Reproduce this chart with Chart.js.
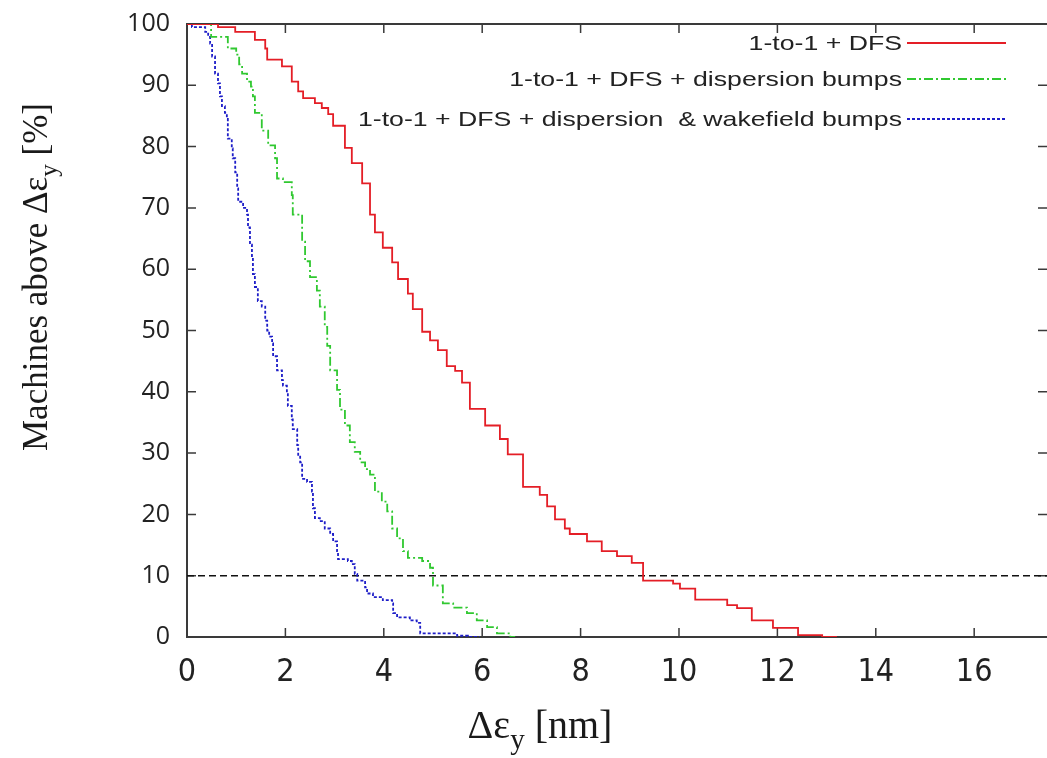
<!DOCTYPE html>
<html>
<head>
<meta charset="utf-8">
<script src="https://cdn.jsdelivr.net/npm/chart.js@4.4.1/dist/chart.umd.min.js"></script>
<style>
  html, body { margin: 0; padding: 0; background: #fff; }
  #wrap { width: 1047px; height: 758px; position: relative; }
</style>
</head>
<body>
<div id="wrap"><canvas id="cdf"></canvas></div>
<script>
// Step curves: value holds from each x onward
const redX = [0, 0.63, 0.98, 1.38, 1.59, 1.63, 1.93, 2.13, 2.26, 2.36, 2.60, 2.74, 2.87, 2.97, 3.21, 3.35, 3.56, 3.72, 3.82, 3.98, 4.17, 4.29, 4.49, 4.59, 4.78, 4.94, 5.10, 5.28, 5.45, 5.59, 5.75, 6.06, 6.36, 6.52, 6.83, 7.17, 7.32, 7.48, 7.68, 7.78, 8.13, 8.43, 8.74, 9.04, 9.27, 9.88, 10.02, 10.33, 10.98, 11.18, 11.48, 11.91, 12.42, 12.91, 13.21];
const redY = [100, 99.5, 98.7, 97.4, 96.0, 94.2, 93.1, 90.6, 89.0, 87.9, 87.1, 86.3, 85.3, 83.4, 79.8, 77.3, 74.0, 68.9, 66.0, 63.5, 61.1, 58.4, 56.0, 53.5, 49.8, 48.4, 46.8, 44.2, 43.4, 41.5, 37.2, 34.5, 32.3, 29.8, 24.5, 23.2, 21.3, 19.2, 17.7, 16.8, 15.6, 14.0, 13.2, 12.1, 9.2, 8.7, 7.9, 6.1, 5.2, 4.7, 2.7, 1.5, 0.3, 0, 0];

const greenX = [0, 0.49, 0.83, 1.00, 1.06, 1.12, 1.22, 1.30, 1.34, 1.38, 1.52, 1.65, 1.79, 1.83, 1.95, 2.13, 2.15, 2.34, 2.40, 2.50, 2.64, 2.70, 2.80, 2.85, 2.91, 3.05, 3.11, 3.21, 3.31, 3.41, 3.52, 3.62, 3.72, 3.82, 3.96, 4.07, 4.17, 4.27, 4.39, 4.49, 4.78, 4.94, 5.00, 5.20, 5.41, 5.69, 5.89, 6.10, 6.30, 6.57, 6.67];
const greenY = [100, 97.9, 96.0, 95.0, 93.4, 91.9, 90.6, 89.8, 88.2, 85.5, 82.6, 80.2, 78.1, 74.8, 74.2, 72.1, 68.9, 64.5, 61.3, 58.7, 56.5, 53.9, 50.6, 47.5, 43.5, 40.3, 37.1, 34.5, 31.8, 30.2, 28.5, 27.4, 26.5, 23.7, 22.1, 20.5, 17.7, 16.1, 14.0, 12.9, 12.4, 11.3, 8.4, 5.5, 4.8, 3.9, 2.7, 1.6, 0.6, 0, 0];

const blueX = [0, 0.10, 0.37, 0.43, 0.47, 0.51, 0.57, 0.63, 0.67, 0.71, 0.77, 0.81, 0.83, 0.91, 0.93, 0.98, 1.02, 1.04, 1.14, 1.22, 1.24, 1.28, 1.32, 1.34, 1.38, 1.44, 1.52, 1.59, 1.63, 1.67, 1.73, 1.75, 1.83, 1.93, 1.95, 2.03, 2.05, 2.13, 2.15, 2.24, 2.26, 2.30, 2.34, 2.44, 2.54, 2.56, 2.60, 2.70, 2.80, 2.91, 2.97, 3.05, 3.07, 3.27, 3.35, 3.41, 3.46, 3.62, 3.66, 3.78, 3.98, 4.17, 4.19, 4.27, 4.53, 4.67, 4.74, 5.49, 5.71, 5.95];
const blueY = [100, 99.5, 98.7, 97.9, 96.8, 94.7, 91.9, 90.3, 88.2, 86.6, 85.5, 84.5, 81.3, 79.7, 78.1, 75.8, 73.2, 71.0, 70.0, 68.9, 66.8, 64.0, 61.9, 59.2, 57.1, 54.8, 53.9, 51.6, 50.0, 49.0, 47.9, 45.8, 43.5, 41.9, 41.0, 39.8, 37.7, 35.5, 33.9, 31.3, 29.7, 28.5, 25.8, 25.3, 23.7, 21.0, 19.4, 18.9, 17.7, 16.8, 15.6, 14.0, 12.7, 12.4, 11.9, 10.3, 9.2, 8.1, 7.1, 6.5, 6.0, 5.5, 3.9, 3.2, 2.7, 2.3, 0.6, 0.2, 0, 0];

const seriesNames = [
  '1-to-1 + DFS',
  '1-to-1 + DFS + dispersion bumps',
  '1-to-1 + DFS + dispersion  & wakefield bumps'
];
const thresholdLevel = 10;
const xMin = 0, xMax = 17.48;
const xTickValues = [0, 2, 4, 6, 8, 10, 12, 14, 16];
const yTickValues = [0, 10, 20, 30, 40, 50, 60, 70, 80, 90, 100];

const RED = 'rgb(228, 30, 38)';
const GREEN = 'rgb(48, 200, 48)';
const BLUE = 'rgb(30, 30, 200)';
const AXIS = '#3a3a3a';

const styles = [
  { color: RED, dash: [] },
  { color: GREEN, dash: [9, 3, 2, 3] },
  { color: BLUE, dash: [3, 2] }
];

function toPoints(xs, ys) {
  return xs.map((x, i) => ({ x: x, y: ys[i] }));
}

const curveData = [toPoints(redX, redY), toPoints(greenX, greenY), toPoints(blueX, blueY)];

// 'before' in Chart.js: horizontal at the previous value, then the drop at the new x
const datasets = curveData.map((pts, i) => ({
  label: seriesNames[i],
  data: pts,
  showLine: true,
  stepped: 'before',
  borderColor: styles[i].color,
  borderDash: styles[i].dash,
  borderWidth: 1.8,
  pointRadius: 0,
  fill: false
}));

datasets.push({
  label: 'threshold',
  data: [{ x: xMin, y: thresholdLevel }, { x: xMax, y: thresholdLevel }],
  showLine: true,
  borderColor: '#111',
  borderDash: [7, 4],
  borderWidth: 1.4,
  pointRadius: 0
});

// frame top line + inward ticks on every side
const framePlugin = {
  id: 'frame',
  beforeDatasetsDraw(chart) {
    const ctx = chart.ctx;
    const { left, right, top, bottom } = chart.chartArea;
    const xs = chart.scales.x, ys = chart.scales.y;
    ctx.save();
    ctx.strokeStyle = AXIS;
    ctx.lineWidth = 2;
    ctx.beginPath();
    ctx.moveTo(left, top);
    ctx.lineTo(right, top);
    ctx.stroke();
    ctx.lineWidth = 1.5;
    ctx.beginPath();
    xTickValues.forEach(v => {
      if (v === 0) return;
      const px = xs.getPixelForValue(v);
      ctx.moveTo(px, bottom); ctx.lineTo(px, bottom - 9);
      ctx.moveTo(px, top); ctx.lineTo(px, top + 9);
    });
    yTickValues.forEach(v => {
      if (v === 0 || v === 100) return;
      const py = ys.getPixelForValue(v);
      ctx.moveTo(left, py); ctx.lineTo(left + 9, py);
      ctx.moveTo(right, py); ctx.lineTo(right - 9, py);
    });
    ctx.stroke();
    ctx.restore();
  }
};

// draws pre + subscript + post, centred on x=0, on the current baseline
function drawSubLabel(ctx, pre, sub, post, size) {
  const mainFont = size + 'px "Liberation Serif", "Times New Roman", serif';
  const subFont = Math.round(size * 0.72) + 'px "Liberation Serif", "Times New Roman", serif';
  ctx.font = mainFont;
  const w1 = ctx.measureText(pre).width;
  ctx.font = subFont;
  const w2 = ctx.measureText(sub).width;
  ctx.font = mainFont;
  const w3 = ctx.measureText(post).width;
  const total = w1 + w2 + w3;
  let x = -total / 2;
  ctx.textAlign = 'left';
  ctx.textBaseline = 'alphabetic';
  ctx.fillText(pre, x, 0);
  x += w1;
  ctx.font = subFont;
  ctx.fillText(sub, x, size * 0.28);
  x += w2;
  ctx.font = mainFont;
  ctx.fillText(post, x, 0);
}

const textPlugin = {
  id: 'texts',
  afterDraw(chart) {
    const ctx = chart.ctx;
    ctx.save();
    ctx.fillStyle = '#1a1a1a';

    // x axis title
    ctx.save();
    ctx.translate(540, 738);
    drawSubLabel(ctx, 'Δε', 'y', ' [nm]', 40);
    ctx.restore();

    // y axis title
    ctx.save();
    ctx.translate(47, 277);
    ctx.rotate(-Math.PI / 2);
    drawSubLabel(ctx, 'Machines above Δε', 'y', ' [%]', 35);
    ctx.restore();

    // legend, right-aligned text with line samples
    const rowsY = [43, 79, 119];
    const textRight = 902, lineStart = 907, lineEnd = 1006;
    rowsY.forEach((ry, i) => {
      ctx.save();
      ctx.translate(textRight, ry);
      ctx.scale(1.27, 1);
      ctx.font = '21px "Liberation Sans", Arial, sans-serif';
      ctx.textAlign = 'right';
      ctx.textBaseline = 'middle';
      ctx.fillStyle = '#222';
      ctx.fillText(seriesNames[i], 0, 1);
      ctx.restore();

      ctx.save();
      ctx.strokeStyle = styles[i].color;
      ctx.lineWidth = 1.8;
      ctx.setLineDash(styles[i].dash);
      ctx.beginPath();
      ctx.moveTo(lineStart, ry);
      ctx.lineTo(lineEnd, ry);
      ctx.stroke();
      ctx.restore();
    });
    ctx.restore();
  }
};

new Chart(document.getElementById('cdf'), {
  type: 'scatter',
  data: { datasets },
  plugins: [framePlugin, textPlugin],
  options: {
    responsive: true,
    maintainAspectRatio: false,
    animation: false,
    layout: { padding: { top: 16, right: 0, left: 0, bottom: 0 } },
    plugins: {
      legend: { display: false },
      tooltip: { enabled: false }
    },
    scales: {
      x: {
        type: 'linear',
        min: xMin,
        max: xMax,
        grid: { display: false },
        border: { display: true, color: AXIS, width: 2 },
        afterBuildTicks: scale => { scale.ticks = xTickValues.map(v => ({ value: v })); },
        afterFit: scale => { scale.height = 121; },
        ticks: {
          color: '#222',
          padding: 8,
          maxRotation: 0,
          font: { family: '"Liberation Sans Narrow", "DejaVu Sans Condensed", "Open Sans", sans-serif', size: 32 }
        }
      },
      y: {
        min: 0,
        max: 100,
        grid: { display: false },
        border: { display: true, color: AXIS, width: 2 },
        afterBuildTicks: scale => { scale.ticks = yTickValues.map(v => ({ value: v })); },
        afterFit: scale => { scale.width = 187; },
        ticks: {
          color: '#222',
          padding: 9,
          font: { family: '"Open Sans", sans-serif', size: 25 }
        }
      }
    }
  }
});
</script>
</body>
</html>
